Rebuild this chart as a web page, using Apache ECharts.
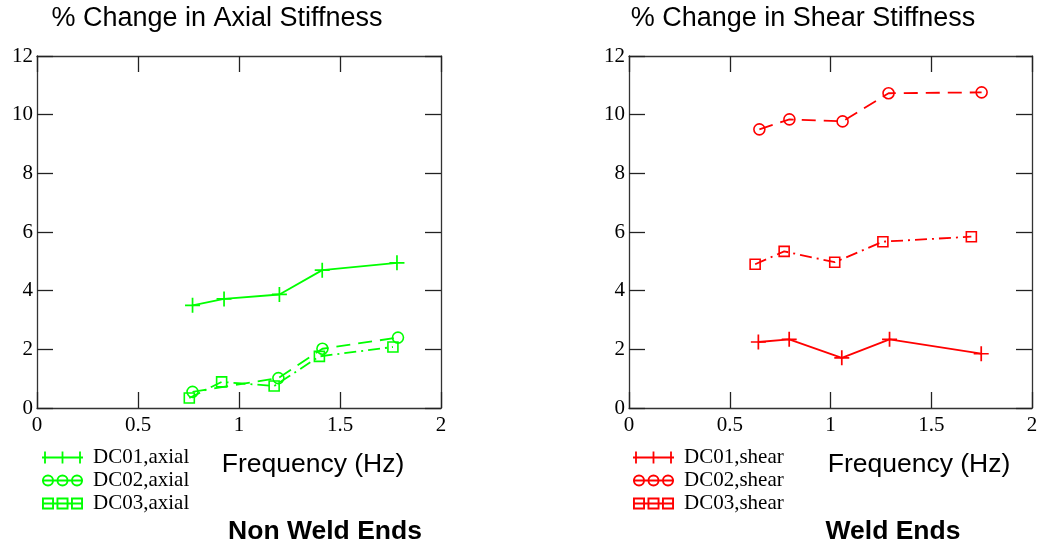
<!DOCTYPE html>
<html>
<head>
<meta charset="utf-8">
<script src="https://cdn.jsdelivr.net/npm/echarts@6/dist/echarts.min.js"></script>
<style>html,body{margin:0;padding:0;background:#fff;}#c{width:1044px;height:546px;}</style>
</head>
<body>
<div id="c"></div>
<script>
// ---- data ----
const xTicks = ['0', '0.5', '1', '1.5', '2'];
const yTicks = ['0', '2', '4', '6', '8', '10', '12'];

const axialFreq01 = [0.770, 0.926, 1.200, 1.412, 1.782];
const axial01     = [3.50, 3.72, 3.87, 4.70, 4.95];
const axialFreq02 = [0.770, 1.195, 1.413, 1.787];
const axial02     = [0.55, 1.02, 2.02, 2.40];
const axialFreq03 = [0.754, 0.914, 1.174, 1.398, 1.762];
const axial03     = [0.34, 0.89, 0.75, 1.76, 2.08];

const shearFreq01 = [0.642, 0.795, 1.056, 1.293, 1.748];
const shear01     = [2.25, 2.34, 1.71, 2.34, 1.85];
const shearFreq02 = [0.647, 0.796, 1.060, 1.288, 1.750];
const shear02     = [9.50, 9.84, 9.77, 10.73, 10.76];
const shearFreq03 = [0.626, 0.770, 1.021, 1.260, 1.699];
const shear03     = [4.90, 5.34, 4.97, 5.67, 5.84];

const axialNames = ['DC01,axial', 'DC02,axial', 'DC03,axial'];
const shearNames = ['DC01,shear', 'DC02,shear', 'DC03,shear'];

// ---- styling ----
const GREEN = '#00ff00';
const RED = '#ff0000';
const SERIF = '"Liberation Serif", "DejaVu Serif", serif';
const SANS = '"Liberation Sans", Arial, sans-serif';

const plusSym = 'path://M0,6.2h14v1.6h-14z M6.2,0h1.6v14h-1.6z';

const iconPlus = 'path://M0,5.1h41v1.8h-41z M2.1,0h1.8v12h-1.8z M19.6,0h1.8v12h-1.8z M37.1,0h1.8v12h-1.8z';
function ring(cx, cy, r, w) {
  const r2 = r - w;
  return 'M' + (cx - r) + ',' + cy + ' a' + r + ',' + r + ' 0 1,1 ' + (2 * r) + ',0 a' + r + ',' + r + ' 0 1,1 ' + (-2 * r) + ',0 z ' +
         'M' + (cx - r2) + ',' + cy + ' a' + r2 + ',' + r2 + ' 0 1,0 ' + (2 * r2) + ',0 a' + r2 + ',' + r2 + ' 0 1,0 ' + (-2 * r2) + ',0 z ';
}
const iconCircle = 'path://M0,5.1h41v1.8h-41z ' + ring(6, 6, 6, 1.9) + ring(20.5, 6, 6, 1.9) + ring(35, 6, 6, 1.9);
function sq(x0, y0, s, w) {
  return 'M' + x0 + ',' + y0 + 'h' + s + 'v' + s + 'h' + (-s) + 'z M' + (x0 + w) + ',' + (y0 + w) + 'v' + (s - 2 * w) + 'h' + (s - 2 * w) + 'v' + (-(s - 2 * w)) + 'z ';
}
const iconSquare = 'path://M0,5.1h41v1.8h-41z ' + sq(0, 0, 12, 1.9) + sq(14.5, 0, 12, 1.9) + sq(29, 0, 12, 1.9);

function zip(xs, ys) { return xs.map((x, i) => [x, ys[i]]); }

const grids = [
  { left: 37, top: 56, width: 404, height: 352 },
  { left: 629, top: 56, width: 403, height: 352 }
];

const axisLine = { show: true, onZero: false, lineStyle: { color: '#333', width: 1.3 } };
const axisTick = { show: true, inside: true, length: 16, lineStyle: { color: '#222', width: 1.3 } };

const xAxes = [], yAxes = [];
[0, 1].forEach(g => {
  xAxes.push({
    type: 'value', gridIndex: g, position: 'bottom', min: 0, max: 2, interval: 0.5,
    axisLine, axisTick, splitLine: { show: false },
    axisLabel: { color: '#000', fontFamily: SERIF, fontSize: 21, margin: 7,
      formatter: v => xTicks[Math.round(v / 0.5)] }
  });
  xAxes.push({
    type: 'value', gridIndex: g, position: 'top', min: 0, max: 2, interval: 0.5,
    axisLine, axisTick, splitLine: { show: false }, axisLabel: { show: false }
  });
  yAxes.push({
    type: 'value', gridIndex: g, position: 'left', min: 0, max: 12, interval: 2,
    axisLine, axisTick, splitLine: { show: false },
    axisLabel: { color: '#000', fontFamily: SERIF, fontSize: 21, margin: 4,
      formatter: v => yTicks[Math.round(v / 2)] }
  });
  yAxes.push({
    type: 'value', gridIndex: g, position: 'right', min: 0, max: 12, interval: 2,
    axisLine, axisTick, splitLine: { show: false }, axisLabel: { show: false }
  });
});

function mk(name, data, g, color, kind) {
  const s = {
    name, type: 'line', data, xAxisIndex: g * 2, yAxisIndex: g * 2,
    lineStyle: { color, width: 1.8 }, showSymbol: true, silent: true
  };
  if (kind === 0) {
    s.symbol = plusSym; s.symbolSize = 15;
    s.itemStyle = { color, borderWidth: 0 };
    s.lineStyle.type = 'solid';
  } else if (kind === 1) {
    s.symbol = 'circle'; s.symbolSize = 11;
    s.itemStyle = { color: 'rgba(0,0,0,0)', borderColor: color, borderWidth: 1.6 };
    s.lineStyle.type = [14, 8];
  } else {
    s.symbol = 'rect'; s.symbolSize = 10;
    s.itemStyle = { color: 'rgba(0,0,0,0)', borderColor: color, borderWidth: 1.6 };
    s.lineStyle.type = [12, 5, 2, 5];
  }
  return s;
}

const series = [
  mk(axialNames[0], zip(axialFreq01, axial01), 0, GREEN, 0),
  mk(axialNames[1], zip(axialFreq02, axial02), 0, GREEN, 1),
  mk(axialNames[2], zip(axialFreq03, axial03), 0, GREEN, 2),
  mk(shearNames[0], zip(shearFreq01, shear01), 1, RED, 0),
  mk(shearNames[1], zip(shearFreq02, shear02), 1, RED, 1),
  mk(shearNames[2], zip(shearFreq03, shear03), 1, RED, 2)
];

const icons = [iconPlus, iconCircle, iconSquare];
function legend(names, color, left) {
  return {
    orient: 'vertical', left, top: 442, itemWidth: 41, itemHeight: 13, itemGap: 2,
    selectedMode: false,
    textStyle: { color: '#000', fontFamily: SERIF, fontSize: 21, lineHeight: 21, padding: [0, 0, 0, 5] },
    data: names.map((n, i) => ({ name: n, icon: icons[i], itemStyle: { color, borderWidth: 0 } }))
  };
}

function txt(x, y, text, size, weight) {
  return { type: 'text', x, y, silent: true,
    style: { text, fill: '#000', font: (weight || 'normal') + ' ' + size + 'px ' + SANS, textAlign: 'center', textVerticalAlign: 'middle' } };
}

const option = {
  animation: false,
  backgroundColor: '#fff',
  grid: grids,
  xAxis: xAxes,
  yAxis: yAxes,
  legend: [legend(axialNames, GREEN, 37), legend(shearNames, RED, 628)],
  series,
  graphic: [
    txt(217, 19, '% Change in Axial Stiffness', 27),
    txt(803, 19, '% Change in Shear Stiffness', 27),
    txt(313, 465, 'Frequency (Hz)', 26.5),
    txt(919, 465, 'Frequency (Hz)', 26.5),
    txt(325, 532, 'Non Weld Ends', 26.5, 'bold'),
    txt(893, 532, 'Weld Ends', 26.5, 'bold')
  ]
};

const chart = echarts.init(document.getElementById('c'), null, { renderer: 'canvas' });
chart.setOption(option);
</script>
</body>
</html>
